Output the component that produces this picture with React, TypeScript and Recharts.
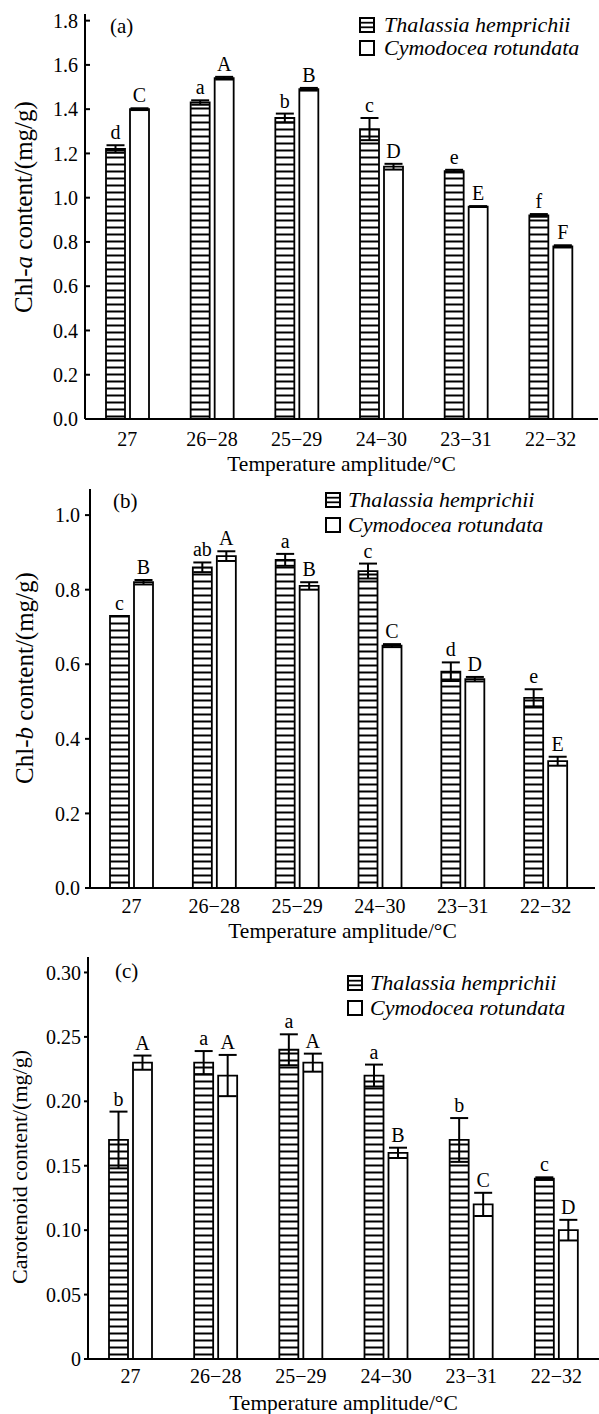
import React from "react";
import { BarChart, Bar, XAxis, YAxis, ErrorBar, LabelList, Legend } from "recharts";

const FONT = "'Liberation Serif', 'Times New Roman', serif";

const categories = ["27", "26−28", "25−29", "24−30", "23−31", "22−32"];
const species = ["Thalassia hemprichii", "Cymodocea rotundata"];

// (a) Chl-a
const chlaTh = [1.22, 1.43, 1.36, 1.31, 1.12, 0.92];
const chlaThErr = [0.017, 0.01, 0.02, 0.05, 0.006, 0.006];
const chlaThSig = ["d", "a", "b", "c", "e", "f"];
const chlaCy = [1.4, 1.54, 1.49, 1.14, 0.96, 0.78];
const chlaCyErr = [0.004, 0.006, 0.006, 0.013, 0.002, 0.005];
const chlaCySig = ["C", "A", "B", "D", "E", "F"];
const chlaTicks = [0, 0.2, 0.4, 0.6, 0.8, 1.0, 1.2, 1.4, 1.6, 1.8];

// (b) Chl-b
const chlbTh = [0.73, 0.86, 0.88, 0.85, 0.58, 0.51];
const chlbThErr = [0, 0.013, 0.016, 0.02, 0.025, 0.023];
const chlbThSig = ["c", "ab", "a", "c", "d", "e"];
const chlbCy = [0.82, 0.89, 0.81, 0.65, 0.56, 0.34];
const chlbCyErr = [0.006, 0.013, 0.01, 0.004, 0.006, 0.012];
const chlbCySig = ["B", "A", "B", "C", "D", "E"];
const chlbTicks = [0, 0.2, 0.4, 0.6, 0.8, 1.0];

// (c) carotenoid
const carTh = [0.17, 0.23, 0.24, 0.22, 0.17, 0.14];
const carThErr = [0.022, 0.009, 0.012, 0.0085, 0.017, 0.001];
const carThSig = ["b", "a", "a", "a", "b", "c"];
const carCy = [0.23, 0.22, 0.23, 0.16, 0.12, 0.1];
const carCyErr = [0.0055, 0.016, 0.007, 0.004, 0.009, 0.008];
const carCySig = ["A", "A", "A", "B", "C", "D"];
const carTicks = [0, 0.05, 0.1, 0.15, 0.2, 0.25, 0.3];

const makeRows = (th, thErr, thSig, cy, cyErr, cySig) =>
  categories.map((cat, i) => ({
    cat,
    th: th[i],
    thErr: thErr[i],
    thSig: thSig[i],
    cy: cy[i],
    cyErr: cyErr[i],
    cySig: cySig[i],
  }));

// letter sits just above the error bar cap
const sigLabel = (vals: number[], errs: number[]) => (p: any) => {
  const { x, y, width, height, value, index } = p;
  const cap = Number(y) - errs[index] * (Number(height) / vals[index]);
  return (
    <text
      x={Number(x) + Number(width) / 2}
      y={cap - 6}
      textAnchor="middle"
      fontSize={20}
      fontFamily={FONT}
      fill="#000"
    >
      {value}
    </text>
  );
};

const Swatch = ({ hatched }: { hatched: boolean }) => (
  <svg width={16} height={16} style={{ display: "block" }}>
    <rect x={1} y={1} width={14} height={14} fill="#fff" stroke="#000" strokeWidth={2} />
    {hatched && (
      <>
        <line x1={1} x2={15} y1={5.7} y2={5.7} stroke="#000" strokeWidth={1.8} />
        <line x1={1} x2={15} y1={10.3} y2={10.3} stroke="#000" strokeWidth={1.8} />
      </>
    )}
  </svg>
);

const SpeciesLegend = ({ rowH, gap }: { rowH: number; gap: number }) => (
  <div style={{ fontFamily: FONT, fontStyle: "italic", fontSize: 22, color: "#000" }}>
    {species.map((s, i) => (
      <div
        key={s}
        style={{ display: "flex", alignItems: "center", height: rowH, whiteSpace: "nowrap" }}
      >
        <Swatch hatched={i === 0} />
        <span style={{ marginLeft: gap }}>{s}</span>
      </div>
    ))}
  </div>
);

const YTitle = (p: any) => (
  <g>
    <text
      x={p.tx}
      y={p.ty}
      transform={`rotate(-90, ${p.tx}, ${p.ty})`}
      textAnchor="middle"
      dominantBaseline="central"
      fontSize={p.size}
      fontFamily={FONT}
      fill="#000"
    >
      {p.children}
    </text>
    <text x={p.tagX} y={p.tagY} fontSize={21} fontFamily={FONT} fill="#000">
      {p.tag}
    </text>
  </g>
);

function Panel(p: any) {
  const hatch = `hatch-${p.id}`;
  return (
    <BarChart
      width={599}
      height={p.height}
      data={p.rows}
      margin={p.margin}
      barSize={19}
      barGap={5}
    >
      <defs>
        <pattern id={hatch} patternUnits="userSpaceOnUse" width={8} height={7}>
          <rect width={8} height={7} fill="#fff" />
          <line x1={0} x2={8} y1={3.5} y2={3.5} stroke="#000" strokeWidth={2} />
        </pattern>
      </defs>
      <XAxis
        dataKey="cat"
        interval={0}
        height={p.xHeight}
        tickLine={false}
        tickSize={0}
        tickMargin={p.xMargin}
        padding={{ left: 0, right: p.xPad }}
        axisLine={{ stroke: "#000", strokeWidth: 2 }}
        tick={{ fill: "#000", fontSize: 20, fontFamily: FONT }}
        label={{
          value: "Temperature amplitude/°C",
          position: "insideBottom",
          offset: p.xLabelOffset,
          fill: "#000",
          fontSize: 21.5,
          fontFamily: FONT,
        }}
      />
      <YAxis
        width={p.yWidth}
        domain={p.domain}
        ticks={p.ticks}
        interval={0}
        tickFormatter={p.fmt}
        tickSize={p.ySize}
        tickMargin={p.yMargin}
        axisLine={{ stroke: "#000", strokeWidth: 2 }}
        tickLine={{ stroke: "#000", strokeWidth: 2 }}
        tick={{ fill: "#000", fontSize: 20, fontFamily: FONT }}
        label={
          <YTitle
            tx={p.titleX}
            ty={p.titleY}
            size={p.titleSize}
            tag={p.tag}
            tagX={p.tagX}
            tagY={p.tagY}
          >
            {p.title}
          </YTitle>
        }
      />
      <Legend
        layout="vertical"
        align="center"
        verticalAlign="middle"
        wrapperStyle={{ left: p.legLeft, top: p.legTop, width: "auto", height: "auto" }}
        content={() => <SpeciesLegend rowH={p.rowH} gap={p.legGap} />}
      />
      <Bar
        dataKey="th"
        name={species[0]}
        fill={`url(#${hatch})`}
        stroke="#000"
        strokeWidth={1.8}
        isAnimationActive={false}
      >
        <ErrorBar dataKey="thErr" width={9} stroke="#000" strokeWidth={2} isAnimationActive={false} />
        <LabelList dataKey="thSig" content={sigLabel(p.th, p.thErr)} />
      </Bar>
      <Bar
        dataKey="cy"
        name={species[1]}
        fill="#fff"
        stroke="#000"
        strokeWidth={1.8}
        isAnimationActive={false}
      >
        <ErrorBar dataKey="cyErr" width={9} stroke="#000" strokeWidth={2} isAnimationActive={false} />
        <LabelList dataKey="cySig" content={sigLabel(p.cy, p.cyErr)} />
      </Bar>
    </BarChart>
  );
}

export default function App() {
  return (
    <div
      style={{ position: "absolute", left: 0, top: 0, width: 599, height: 1414, background: "#fff" }}
    >
      <Panel
        id="a"
        height={480}
        margin={{ top: 14, right: 1, bottom: 0, left: 0 }}
        rows={makeRows(chlaTh, chlaThErr, chlaThSig, chlaCy, chlaCyErr, chlaCySig)}
        th={chlaTh}
        thErr={chlaThErr}
        cy={chlaCy}
        cyErr={chlaCyErr}
        yWidth={85}
        domain={[0, 1.83]}
        ticks={chlaTicks}
        fmt={(v: number) => v.toFixed(1)}
        ySize={-5}
        yMargin={12}
        xHeight={61}
        xMargin={13}
        xPad={5}
        xLabelOffset={9}
        legLeft={359}
        legTop={13.5}
        rowH={23}
        legGap={9}
        title={<>Chl-<tspan fontStyle="italic">a</tspan> content/(mg/g)</>}
        titleX={23}
        titleY={207}
        titleSize={25}
        tag="(a)"
        tagX={110}
        tagY={33}
      />
      <Panel
        id="b"
        height={465}
        margin={{ top: 9, right: 4, bottom: 0, left: 0 }}
        rows={makeRows(chlbTh, chlbThErr, chlbThSig, chlbCy, chlbCyErr, chlbCySig)}
        th={chlbTh}
        thErr={chlbThErr}
        cy={chlbCy}
        cyErr={chlbCyErr}
        yWidth={90}
        domain={[0, 1.07]}
        ticks={chlbTicks}
        fmt={(v: number) => v.toFixed(1)}
        ySize={5}
        yMargin={5}
        xHeight={57}
        xMargin={11}
        xPad={8}
        xLabelOffset={7}
        legLeft={325}
        legTop={7.5}
        rowH={25}
        legGap={7}
        title={<>Chl-<tspan fontStyle="italic">b</tspan> content/(mg/g)</>}
        titleX={24}
        titleY={198}
        titleSize={25}
        tag="(b)"
        tagX={113}
        tagY={28}
      />
      <Panel
        id="c"
        height={469}
        margin={{ top: 12, right: 0, bottom: 0, left: 0 }}
        rows={makeRows(carTh, carThErr, carThSig, carCy, carCyErr, carCySig)}
        th={carTh}
        thErr={carThErr}
        cy={carCy}
        cyErr={carCyErr}
        yWidth={88}
        domain={[0, 0.312]}
        ticks={carTicks}
        fmt={(v: number) => (v === 0 ? "0" : v.toFixed(2))}
        ySize={4}
        yMargin={3}
        xHeight={55}
        xMargin={10}
        xPad={0}
        xLabelOffset={4}
        legLeft={347}
        legTop={25.5}
        rowH={25}
        legGap={7}
        title="Carotenoid content/(mg/g)"
        titleX={19}
        titleY={222}
        titleSize={22}
        tag="(c)"
        tagX={115}
        tagY={33}
      />
    </div>
  );
}
